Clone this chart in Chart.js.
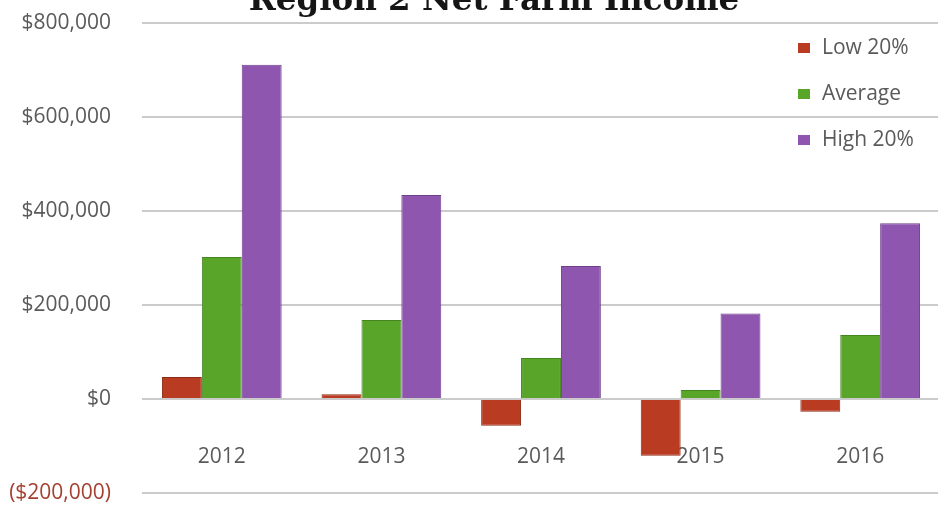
<!DOCTYPE html>
<html>
<head>
<meta charset="utf-8">
<script src="https://cdn.jsdelivr.net/npm/chart.js@4.4.0/dist/chart.umd.min.js"></script>
<style>
  html, body { margin: 0; padding: 0; background: #ffffff; overflow: hidden; width: 938px; height: 506px; }
  #wrap { position: absolute; left: 0; top: -18px; width: 940px; height: 524px; }
</style>
</head>
<body>
<div id="wrap"><canvas id="c"></canvas></div>
<script>
const titleText = 'Region 2 Net Farm Income';
const categories = ['2012', '2013', '2014', '2015', '2016'];
const seriesNames = ['Low 20%', 'Average', 'High 20%'];
const low20 = [47000, 10000, -57000, -121000, -27000];
const average = [302000, 168000, 87000, 19000, 136000];
const high20 = [711000, 434000, 283000, 182000, 374000];
const yTicks = [-200000, 0, 200000, 400000, 600000, 800000];

const colors = ['#b83b22', '#58a52a', '#8e56ae'];
const borders = ['#8e2a18', '#46861f', '#6e3f8a'];
const textColor = '#5a5a5a';
const negColor = '#a4402f';

function fmt(v) {
  const s = '$' + Math.abs(v).toLocaleString('en-US');
  return v < 0 ? '(' + s + ')' : s;
}

const legendPlugin = {
  id: 'sideLegend',
  afterLayout(chart) {
    // let the y-axis labels spill into the left padding without being clipped
    chart.scales.y.left = 0;
  },
  afterDraw(chart) {
    const ctx = chart.ctx;
    const area = chart.chartArea;
    ctx.save();
    ctx.font = '21px "Open Sans"';
    ctx.textBaseline = 'middle';
    ctx.textAlign = 'left';
    chart.data.datasets.forEach((ds, i) => {
      const cy = area.top + 25 + i * 46;
      const x = area.left + 656;
      ctx.fillStyle = ds.backgroundColor;
      ctx.fillRect(x, cy - 5, 12, 10);
      ctx.fillStyle = textColor;
      ctx.fillText(ds.label, x + 24, cy);
    });
    ctx.restore();
  }
};

new Chart(document.getElementById('c'), {
  type: 'bar',
  data: {
    labels: categories,
    datasets: [
      { label: seriesNames[0], data: low20, backgroundColor: colors[0], borderColor: borders[0], borderWidth: 1 },
      { label: seriesNames[1], data: average, backgroundColor: colors[1], borderColor: borders[1], borderWidth: 1 },
      { label: seriesNames[2], data: high20, backgroundColor: colors[2], borderColor: borders[2], borderWidth: 1 }
    ]
  },
  options: {
    responsive: true,
    maintainAspectRatio: false,
    animation: false,
    layout: { padding: { left: 48, right: 0, top: 0, bottom: 0 } },
    datasets: { bar: { categoryPercentage: 0.75, barPercentage: 1.0 } },
    plugins: {
      legend: { display: false },
      tooltip: { enabled: false },
      title: {
        display: true,
        text: titleText,
        color: '#151515',
        font: { family: '"DejaVu Serif"', weight: 'bold', size: 32.5 },
        padding: { top: 0, bottom: 2 }
      }
    },
    scales: {
      x: {
        position: { y: -100000 },
        afterFit(scale) { scale.height = 0; },
        grid: { display: false, drawTicks: false },
        border: { display: false },
        ticks: {
          color: textColor,
          font: { family: '"Open Sans"', size: 21 },
          padding: -2
        }
      },
      y: {
        min: yTicks[0],
        max: yTicks[yTicks.length - 1],
        afterFit(scale) {
          scale.width = 94;
          scale.paddingTop = 0;
          scale.paddingBottom = 13;
        },
        afterBuildTicks(scale) { scale.ticks = yTicks.map(v => ({ value: v })); },
        grid: { color: '#cbcbcb', lineWidth: 2, drawTicks: false },
        border: { display: false },
        ticks: {
          padding: 31,
          color: (c) => (c.tick && c.tick.value < 0 ? negColor : textColor),
          font: { family: '"Open Sans"', size: 21 },
          callback: (v) => fmt(v)
        }
      }
    }
  },
  plugins: [legendPlugin]
});
</script>
</body>
</html>
